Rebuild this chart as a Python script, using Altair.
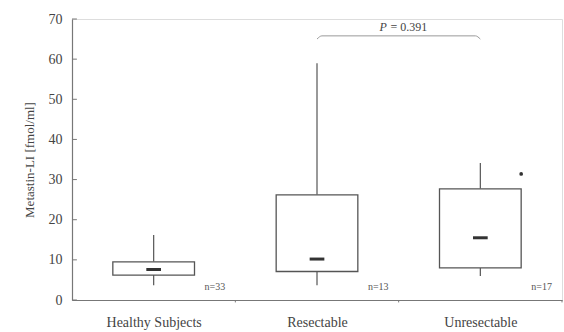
import altair as alt
import pandas as pd

# Box-plot summary per group (fmol/ml)
categories = ["Healthy Subjects", "Resectable", "Unresectable"]
centers = [0.5, 1.5, 2.5]
q1 = [6.2, 7.1, 8.0]
q3 = [9.5, 26.2, 27.7]
medians = [7.6, 10.2, 15.5]
whisker_low = [3.7, 3.7, 6.0]
whisker_high = [16.2, 59.0, 34.1]
n_labels = ["n=33", "n=13", "n=17"]

# Outlier in the unresectable group
outlier_x = [2.75]
outlier_y = [31.4]

# Significance bracket between resectable and unresectable
bracket_x = [1.5, 1.53, 2.47, 2.5]
bracket_y = [65.0, 65.8, 65.8, 65.0]
p_value = "= 0.391"

y_ticks = [0, 10, 20, 30, 40, 50, 60, 70]
x_bounds = [1, 2, 3]

BOX_HALF = 0.25
MED_HALF = 0.045
INK = "#555555"
FONT = "Liberation Serif"

boxes = pd.DataFrame({
    "cat": categories, "c": centers, "q1": q1, "q3": q3, "med": medians,
    "lo": whisker_low, "hi": whisker_high, "n": n_labels,
})
boxes["left"] = boxes["c"] - BOX_HALF
boxes["right"] = boxes["c"] + BOX_HALF
boxes["mleft"] = boxes["c"] - MED_HALF
boxes["mright"] = boxes["c"] + MED_HALF
boxes["nx"] = boxes["c"] + 0.375
boxes["ny"] = 2.0

xs = alt.Scale(domain=[0, 3], nice=False, zero=False)
ys = alt.Scale(domain=[0, 70], nice=False)

x_axis = alt.Axis(
    values=centers, title=None, grid=False, ticks=False,
    labelExpr="datum.value < 1 ? 'Healthy Subjects' : datum.value < 2 ? 'Resectable' : 'Unresectable'",
    labelFont=FONT, labelFontSize=14, labelColor="#444444", labelPadding=15,
    domainColor="#777777", domainWidth=1.2,
)
y_axis = alt.Axis(
    values=y_ticks, title="Metastin-LI [fmol/ml]", grid=False, ticks=False,
    labelFont=FONT, labelFontSize=14, labelColor="#444444", labelPadding=10,
    titleFont=FONT, titleFontSize=13, titleColor="#444444", titleFontWeight="normal",
    titlePadding=12, domainColor="#777777", domainWidth=1.2,
)

base = alt.Chart(boxes)

whisk_lo = base.mark_rule(color=INK, strokeWidth=1.2).encode(
    x=alt.X("c:Q", scale=xs, axis=x_axis),
    y=alt.Y("lo:Q", scale=ys, axis=y_axis),
    y2="q1:Q",
)
whisk_hi = base.mark_rule(color=INK, strokeWidth=1.2).encode(
    x=alt.X("c:Q", scale=xs), y=alt.Y("q3:Q", scale=ys), y2="hi:Q",
)
box = base.mark_rect(fill="white", stroke=INK, strokeWidth=1.3).encode(
    x=alt.X("left:Q", scale=xs), x2="right:Q",
    y=alt.Y("q1:Q", scale=ys), y2="q3:Q",
)
med = base.mark_rule(color="#333333", strokeWidth=3).encode(
    x=alt.X("mleft:Q", scale=xs), x2="mright:Q", y=alt.Y("med:Q", scale=ys),
)
ntext = base.mark_text(font=FONT, fontSize=10, color="#555555", baseline="bottom").encode(
    x=alt.X("nx:Q", scale=xs), y=alt.Y("ny:Q", scale=ys), text="n:N",
)

out = alt.Chart(pd.DataFrame({"x": outlier_x, "y": outlier_y})).mark_point(
    filled=True, color="#333333", size=14, opacity=1
).encode(x=alt.X("x:Q", scale=xs), y=alt.Y("y:Q", scale=ys))

# inward tick marks on the y axis
ytick_df = pd.DataFrame({"v": y_ticks, "x0": 0.0, "x1": 0.03})
yticks = alt.Chart(ytick_df).mark_rule(color="#777777", strokeWidth=1).encode(
    x=alt.X("x0:Q", scale=xs), x2="x1:Q", y=alt.Y("v:Q", scale=ys),
)

# small ticks below the x axis at group boundaries
xtick_df = pd.DataFrame({"v": x_bounds, "y0": 0.0, "y1": -0.6})
xticks = alt.Chart(xtick_df).mark_rule(color="#777777", strokeWidth=1).encode(
    x=alt.X("v:Q", scale=xs), y=alt.Y("y0:Q", scale=ys), y2="y1:Q",
)

bracket = alt.Chart(pd.DataFrame({"x": bracket_x, "y": bracket_y, "o": range(4)})).mark_line(
    color="#9a9a9a", strokeWidth=1, interpolate="monotone"
).encode(x=alt.X("x:Q", scale=xs), y=alt.Y("y:Q", scale=ys), order="o:Q")

p_label = alt.Chart(pd.DataFrame({"x": [1.905], "y": [68.0], "t": ["P"]})).mark_text(
    font=FONT, fontSize=12, fontStyle="italic", color="#444444", align="center"
).encode(x=alt.X("x:Q", scale=xs), y=alt.Y("y:Q", scale=ys), text="t:N")
p_val = alt.Chart(pd.DataFrame({"x": [1.95], "y": [68.0], "t": [p_value]})).mark_text(
    font=FONT, fontSize=12, color="#444444", align="left"
).encode(x=alt.X("x:Q", scale=xs), y=alt.Y("y:Q", scale=ys), text="t:N")

chart = alt.layer(
    whisk_lo, whisk_hi, box, med, ntext, out, yticks, xticks, bracket, p_label, p_val
).properties(
    width=490, height=281,
    autosize=alt.AutoSizeParams(type="none"),
    padding={"left": 72, "top": 19, "right": 2, "bottom": 32},
).configure_view(stroke=None).configure(background="white")

chart.save("out.html", embed_options={"renderer": "svg", "actions": False})
